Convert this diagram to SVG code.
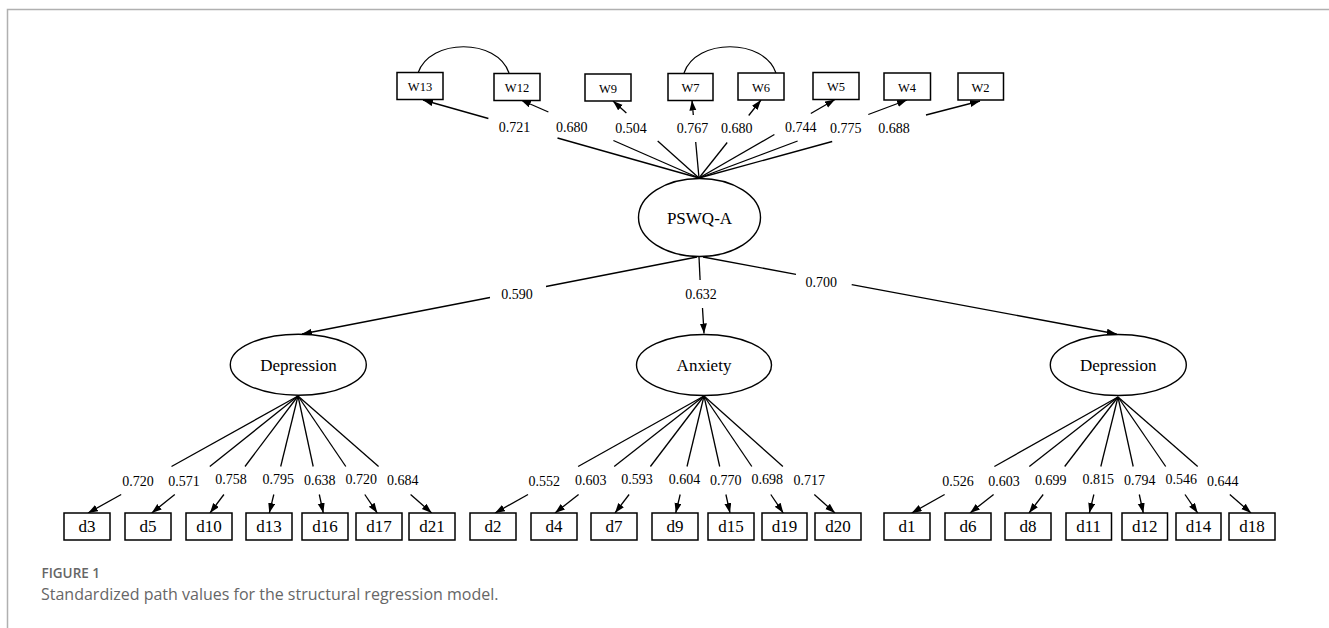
<svg xmlns="http://www.w3.org/2000/svg" width="1329" height="628" viewBox="0 0 1329 628">
<defs>
<marker id="ah" markerUnits="userSpaceOnUse" markerWidth="11" markerHeight="8" refX="10" refY="3.5" orient="auto">
<path d="M0,0 L10,3.5 L0,7 z" fill="#000"/>
</marker>
<style>
.box{fill:#fff;stroke:#000;stroke-width:1.5}
.ell{fill:#fff;stroke:#000;stroke-width:1.4}
.ln{stroke:#000;stroke-width:1.3;fill:none}
.ar{stroke:#000;stroke-width:1.3;fill:none;marker-end:url(#ah)}
.cv{stroke:#000;stroke-width:1.2;fill:none}
.wt{font-family:"Liberation Serif","Times New Roman",serif;font-size:12.5px;text-anchor:middle;fill:#000}
.dt{font-family:"Liberation Serif","Times New Roman",serif;font-size:17px;text-anchor:middle;fill:#000}
.et{font-family:"Liberation Serif","Times New Roman",serif;font-size:17px;text-anchor:middle;fill:#000}
.lb{font-family:"Liberation Serif","Times New Roman",serif;font-size:14px;text-anchor:middle;fill:#000}
.frame{stroke:#b0b0b0;stroke-width:1.5;fill:none}
.cap1{font-family:"Open Sans","Noto Sans",sans-serif;font-size:13.5px;font-weight:600;fill:#666}
.cap2{font-family:"Open Sans","Noto Sans",sans-serif;font-size:16px;fill:#666}
</style>
</defs>
<rect width="1329" height="628" fill="#fff"/>
<path class="frame" d="M7.5,628 L7.5,9.5 L1329,9.5"/>

<g id="connectors">
<!-- covariances -->
<path class="cv" d="M418,73 C430,38 497,38 509,73"/>
<path class="cv" d="M684,73 C696,38 764,38 776,73"/>
<!-- PSWQ-A to W items -->
<line class="ln" x1="699" y1="178" x2="557.5" y2="138"/><line class="ar" x1="488.4" y1="118.5" x2="423" y2="100"/>
<line class="ln" x1="699" y1="178" x2="613.4" y2="140.5"/><line class="ar" x1="548.4" y1="112" x2="521" y2="100"/>
<line class="ln" x1="699" y1="178" x2="657.7" y2="141"/><line class="ar" x1="626.4" y1="113" x2="613" y2="101"/>
<line class="ln" x1="699" y1="178" x2="695.7" y2="142"/><line class="ar" x1="693.3" y1="115" x2="692" y2="100.5"/>
<line class="ln" x1="699" y1="178" x2="727.2" y2="142.5"/><line class="ar" x1="748.7" y1="115.5" x2="761" y2="100"/>
<line class="ln" x1="699" y1="178" x2="774.4" y2="134.5"/><line class="ar" x1="810.8" y1="113.5" x2="835" y2="99.5"/>
<line class="ln" x1="699" y1="178" x2="797.6" y2="141"/><line class="ar" x1="868.3" y1="114.5" x2="907" y2="100"/>
<line class="ln" x1="699" y1="178" x2="832.2" y2="141.5"/><line class="ar" x1="926" y1="115" x2="980" y2="101"/>
<!-- structural paths -->
<line class="ln" x1="697" y1="257" x2="546" y2="286.5"/><line class="ar" x1="490" y1="297.5" x2="302" y2="334"/>
<line class="ln" x1="699" y1="257" x2="700.1" y2="280"/><line class="ar" x1="702.5" y1="308" x2="704" y2="333.5"/>
<line class="ln" x1="703" y1="257" x2="796" y2="274.3"/><line class="ar" x1="851.7" y1="284.7" x2="1116.7" y2="334"/>
<!-- left Depression loadings -->
<line class="ln" x1="298" y1="396" x2="171.5" y2="466.5"/><line class="ar" x1="121.2" y1="494.5" x2="88" y2="513"/>
<line class="ln" x1="298" y1="396" x2="209.8" y2="466.5"/><line class="ar" x1="174.8" y1="494.5" x2="151.7" y2="513"/>
<line class="ln" x1="298" y1="396" x2="245" y2="466.5"/><line class="ar" x1="223.9" y1="494.5" x2="210" y2="513"/>
<line class="ln" x1="298" y1="396" x2="280.7" y2="466.5"/><line class="ar" x1="273.8" y1="494.5" x2="269.3" y2="513"/>
<line class="ln" x1="298" y1="396" x2="313.2" y2="466.5"/><line class="ar" x1="319.3" y1="494.5" x2="323.3" y2="513"/>
<line class="ln" x1="298" y1="396" x2="345.8" y2="466.5"/><line class="ar" x1="364.8" y1="494.5" x2="377.3" y2="513"/>
<line class="ln" x1="298" y1="396" x2="378.6" y2="466.5"/><line class="ar" x1="410.6" y1="494.5" x2="431.7" y2="513"/>
<!-- Anxiety loadings -->
<line class="ln" x1="704" y1="396" x2="578.1" y2="466.5"/><line class="ar" x1="528" y1="494.5" x2="495" y2="513"/>
<line class="ln" x1="704" y1="396" x2="614.2" y2="466.5"/><line class="ar" x1="578.6" y1="494.5" x2="555" y2="513"/>
<line class="ln" x1="704" y1="396" x2="650.4" y2="466.5"/><line class="ar" x1="629.1" y1="494.5" x2="615" y2="513"/>
<line class="ln" x1="704" y1="396" x2="687" y2="466.5"/><line class="ar" x1="680.2" y1="494.5" x2="675.7" y2="513"/>
<line class="ln" x1="704" y1="396" x2="719.7" y2="466.5"/><line class="ar" x1="725.9" y1="494.5" x2="730" y2="513"/>
<line class="ln" x1="704" y1="396" x2="751.8" y2="466.5"/><line class="ar" x1="770.8" y1="494.5" x2="783.3" y2="513"/>
<line class="ln" x1="704" y1="396" x2="782.9" y2="466.5"/><line class="ar" x1="814.3" y1="494.5" x2="835" y2="513"/>
<!-- right Depression loadings -->
<line class="ln" x1="1118" y1="397" x2="994.4" y2="466.5"/><line class="ar" x1="944.6" y1="494.5" x2="911.7" y2="513"/>
<line class="ln" x1="1118" y1="397" x2="1029.3" y2="466.5"/><line class="ar" x1="993.6" y1="494.5" x2="970" y2="513"/>
<line class="ln" x1="1118" y1="397" x2="1064.7" y2="466.5"/><line class="ar" x1="1043.2" y1="494.5" x2="1029" y2="513"/>
<line class="ln" x1="1118" y1="397" x2="1100.8" y2="466.5"/><line class="ar" x1="1093.9" y1="494.5" x2="1089.3" y2="513"/>
<line class="ln" x1="1118" y1="397" x2="1133.2" y2="466.5"/><line class="ar" x1="1139.3" y1="494.5" x2="1143.3" y2="513"/>
<line class="ln" x1="1118" y1="397" x2="1165.7" y2="466.5"/><line class="ar" x1="1185" y1="494.5" x2="1197.7" y2="513"/>
<line class="ln" x1="1118" y1="397" x2="1197.7" y2="466.5"/><line class="ar" x1="1229.8" y1="494.5" x2="1251" y2="513"/>
</g>

<g id="labels">
<text class="lb" x="514.5" y="132">0.721</text>
<text class="lb" x="571.7" y="132">0.680</text>
<text class="lb" x="631" y="132.5">0.504</text>
<text class="lb" x="692.5" y="132.5">0.767</text>
<text class="lb" x="736.7" y="132.5">0.680</text>
<text class="lb" x="800.7" y="131.5">0.744</text>
<text class="lb" x="845.8" y="132.5">0.775</text>
<text class="lb" x="894" y="132.5">0.688</text>
<text class="lb" x="517" y="298.5">0.590</text>
<text class="lb" x="701" y="298.5">0.632</text>
<text class="lb" x="821.3" y="287">0.700</text>
<text class="lb" x="138" y="485.5">0.720</text>
<text class="lb" x="184" y="485.5">0.571</text>
<text class="lb" x="231" y="484">0.758</text>
<text class="lb" x="278.3" y="484">0.795</text>
<text class="lb" x="319.7" y="484.5">0.638</text>
<text class="lb" x="361.3" y="484">0.720</text>
<text class="lb" x="402.8" y="485">0.684</text>
<text class="lb" x="544.2" y="485.5">0.552</text>
<text class="lb" x="590.7" y="485">0.603</text>
<text class="lb" x="637" y="484">0.593</text>
<text class="lb" x="684.5" y="484">0.604</text>
<text class="lb" x="725.8" y="484.5">0.770</text>
<text class="lb" x="767.2" y="484">0.698</text>
<text class="lb" x="809.3" y="485">0.717</text>
<text class="lb" x="958" y="486">0.526</text>
<text class="lb" x="1004" y="485.5">0.603</text>
<text class="lb" x="1050.7" y="484.5">0.699</text>
<text class="lb" x="1098.3" y="484">0.815</text>
<text class="lb" x="1139.7" y="484.5">0.794</text>
<text class="lb" x="1181.2" y="484">0.546</text>
<text class="lb" x="1222.7" y="485.5">0.644</text>
</g>

<g id="W13"><rect class="box" x="397" y="72.5" width="46" height="27"/><text class="wt" x="420" y="91">W13</text></g>
<g id="W12"><rect class="box" x="494" y="73.5" width="46" height="27"/><text class="wt" x="517" y="92">W12</text></g>
<g id="W9"><rect class="box" x="585" y="74" width="46" height="27"/><text class="wt" x="608" y="92.5">W9</text></g>
<g id="W7"><rect class="box" x="668" y="73.5" width="45" height="27"/><text class="wt" x="690.5" y="92">W7</text></g>
<g id="W6"><rect class="box" x="738" y="73" width="46" height="27"/><text class="wt" x="761" y="91.5">W6</text></g>
<g id="W5"><rect class="box" x="813" y="72.5" width="46" height="27"/><text class="wt" x="836" y="91">W5</text></g>
<g id="W4"><rect class="box" x="884" y="73" width="46.5" height="27"/><text class="wt" x="907" y="91.5">W4</text></g>
<g id="W2"><rect class="box" x="958" y="73" width="45.5" height="27"/><text class="wt" x="980.5" y="91.5">W2</text></g>

<g id="PSWQ-A"><ellipse class="ell" cx="699.5" cy="217.5" rx="61" ry="39"/><text class="et" x="699.5" y="223.5">PSWQ-A</text></g>
<g id="Depression-left"><ellipse class="ell" cx="298.3" cy="364.7" rx="68" ry="30.5"/><text class="et" x="298.5" y="370.5">Depression</text></g>
<g id="Anxiety"><ellipse class="ell" cx="704" cy="365" rx="67.5" ry="30.5"/><text class="et" x="704" y="370.5">Anxiety</text></g>
<g id="Depression-right"><ellipse class="ell" cx="1118.3" cy="365" rx="68" ry="30.5"/><text class="et" x="1118.3" y="370.5">Depression</text></g>

<g id="d3"><rect class="box" x="64" y="513" width="46" height="27"/><text class="dt" x="87" y="532">d3</text></g>
<g id="d5"><rect class="box" x="125" y="513" width="46" height="27"/><text class="dt" x="148" y="532">d5</text></g>
<g id="d10"><rect class="box" x="186" y="513" width="46" height="27"/><text class="dt" x="209" y="532">d10</text></g>
<g id="d13"><rect class="box" x="246" y="513" width="46" height="27"/><text class="dt" x="269" y="532">d13</text></g>
<g id="d16"><rect class="box" x="302" y="513" width="46" height="27"/><text class="dt" x="325" y="532">d16</text></g>
<g id="d17"><rect class="box" x="356" y="513" width="46" height="27"/><text class="dt" x="379" y="532">d17</text></g>
<g id="d21"><rect class="box" x="409" y="513" width="46" height="27"/><text class="dt" x="432" y="532">d21</text></g>

<g id="d2"><rect class="box" x="470" y="513" width="46" height="27"/><text class="dt" x="493" y="532">d2</text></g>
<g id="d4"><rect class="box" x="531" y="513" width="46" height="27"/><text class="dt" x="554" y="532">d4</text></g>
<g id="d7"><rect class="box" x="591" y="513" width="46" height="27"/><text class="dt" x="614" y="532">d7</text></g>
<g id="d9"><rect class="box" x="652" y="513" width="46" height="27"/><text class="dt" x="675" y="532">d9</text></g>
<g id="d15"><rect class="box" x="708" y="513" width="46" height="27"/><text class="dt" x="731" y="532">d15</text></g>
<g id="d19"><rect class="box" x="762" y="513" width="45" height="27"/><text class="dt" x="784.5" y="532">d19</text></g>
<g id="d20"><rect class="box" x="815" y="513" width="46" height="27"/><text class="dt" x="838" y="532">d20</text></g>

<g id="d1"><rect class="box" x="884" y="513" width="46" height="27"/><text class="dt" x="907" y="532">d1</text></g>
<g id="d6"><rect class="box" x="945" y="513" width="46" height="27"/><text class="dt" x="968" y="532">d6</text></g>
<g id="d8"><rect class="box" x="1005" y="513" width="46" height="27"/><text class="dt" x="1028" y="532">d8</text></g>
<g id="d11"><rect class="box" x="1066" y="513" width="45.5" height="27"/><text class="dt" x="1088.7" y="532">d11</text></g>
<g id="d12"><rect class="box" x="1122" y="513" width="45.5" height="27"/><text class="dt" x="1144.7" y="532">d12</text></g>
<g id="d14"><rect class="box" x="1176" y="513" width="45" height="27"/><text class="dt" x="1198.5" y="532">d14</text></g>
<g id="d18"><rect class="box" x="1229" y="513" width="46" height="27"/><text class="dt" x="1252" y="532">d18</text></g>

<g id="caption">
<text class="cap1" x="41.5" y="578">FIGURE 1</text>
<text class="cap2" x="41" y="600">Standardized path values for the structural regression model.</text>
</g>
</svg>
